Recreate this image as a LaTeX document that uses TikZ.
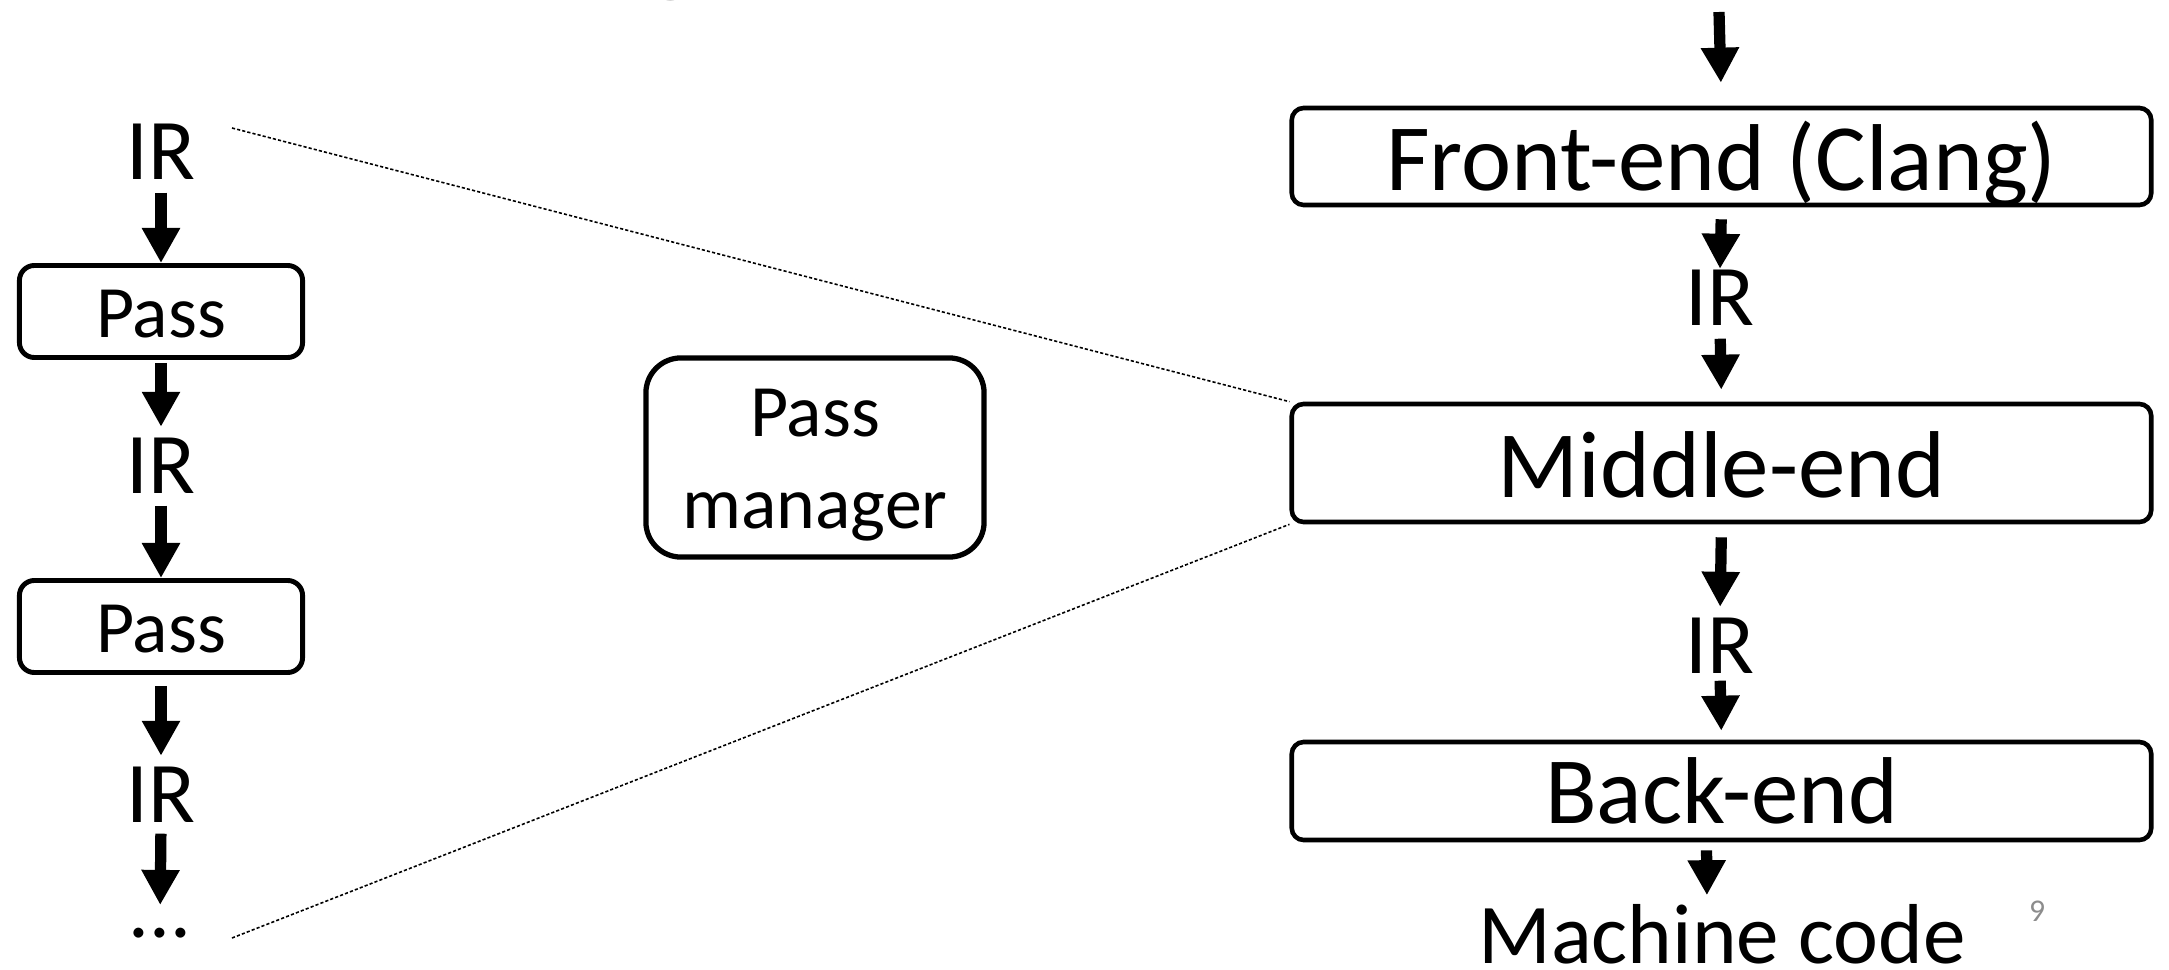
\documentclass[tikz,border=0pt]{standalone}
\usepackage{fontspec}
\setmainfont{Carlito}
\usetikzlibrary{arrows.meta}
\begin{document}
\begin{tikzpicture}[x=0.01cm,y=-0.01cm,
  flow/.style={line width=3.2pt,-{Triangle[width=0.36cm,length=0.35cm]}},
  stage/.style={draw,line width=1.3pt,rounded corners=0.12cm,minimum width=8.59cm,
    inner sep=0pt,text depth=0pt,font=\fontsize{27pt}{32pt}\selectfont},
  passbox/.style={draw,line width=1.4pt,rounded corners=0.15cm,minimum width=2.83cm,
    minimum height=0.92cm,inner sep=0pt,text height=0.51cm,text depth=0pt,
    font=\fontsize{21pt}{25pt}\selectfont},
  irlabel/.style={anchor=base,inner sep=0pt,font=\fontsize{24.6pt}{29pt}\selectfont},
  zoomline/.style={line width=0.45pt,dash pattern=on 0.9pt off 0.6pt,black}]
\useasboundingbox (0,0) rectangle (2169,970);
\fill[white] (0,0) rectangle (2169,970);

% slide title (only its lowest edge falls inside the frame)
\node[anchor=base,inner sep=0pt,font=\fontsize{40pt}{48pt}\selectfont] (ttl) at (672,-23) {g};

% compiler pipeline
\coordinate (src) at (1719,12);
\node[stage,minimum height=0.97cm,text height=0.67cm] (fe) at (1721.5,156.5) {Front-end (Clang)};
\node[irlabel] (ira) at (1720,325) {IR};
\node[stage,minimum height=1.18cm,text height=0.68cm] (mid) at (1721.5,463) {Middle-end};
\node[irlabel] (irb) at (1720,673) {IR};
\node[stage,minimum height=0.98cm,text height=0.64cm] (be) at (1721.5,791) {Back-end};
\node[irlabel,font=\fontsize{24.2pt}{29pt}\selectfont] (mc) at (1722,963) {Machine code};

\draw[flow,shorten >=0.23cm] (src) -- (fe.north);
\draw[flow,shorten <=0.12cm] (fe.south) -- (ira.north);
\draw[flow,shorten <=0.13cm,shorten >=0.12cm] (ira.south) -- (mid.north);
\draw[flow,shorten <=0.13cm,shorten >=0.10cm] (mid.south) -- (irb.north);
\draw[flow,shorten <=0.07cm,shorten >=0.09cm] (irb.south) -- (be.north);
\draw[flow,shorten <=0.08cm,shorten >=0.08cm] ([xshift=-0.15cm]be.south) -- ([xshift=-0.15cm]mc.north);

% pass pipeline inside the middle-end
\node[irlabel] (l1) at (161,180) {IR};
\node[passbox] (p1) at (161,311.5) {Pass};
\node[irlabel] (l2) at (161,493) {IR};
\node[passbox] (p2) at (161,626.5) {Pass};
\node[irlabel] (l3) at (161,822) {IR};
\node[anchor=base,inner sep=0pt,font=\fontsize{23.5pt}{28pt}\selectfont] (more) at (160,937) {...};

\draw[flow,shorten <=0.12cm] (l1.south) -- (p1.north);
\draw[flow,shorten <=0.03cm,shorten >=0.10cm] (p1.south) -- (l2.north);
\draw[flow,shorten <=0.12cm] (l2.south) -- (p2.north);
\draw[flow,shorten <=0.11cm,shorten >=0.10cm] (p2.south) -- (l3.north);
\draw[flow,shorten <=0.11cm,shorten >=0.22cm] (l3.south) -- (more.north);

\node[draw,line width=1.5pt,rounded corners=0.35cm,minimum width=3.38cm,minimum height=1.99cm,
  inner sep=0pt,align=center,font=\fontsize{21pt}{25.9pt}\selectfont,
  text height=1.41cm,text depth=0pt] (pm) at (815,457.5) {Pass\\manager};

% zoom guides
\coordinate (zt) at (232,128);
\coordinate (zb) at (232,938);
\draw[zoomline] (zt) -- (mid.north west);
\draw[zoomline] (zb) -- (mid.south west);

% page number
\node[anchor=base,inner sep=0pt,text=black!45,font=\fontsize{9pt}{11pt}\selectfont] (pg) at (2037,921) {9};
\end{tikzpicture}
\end{document}
